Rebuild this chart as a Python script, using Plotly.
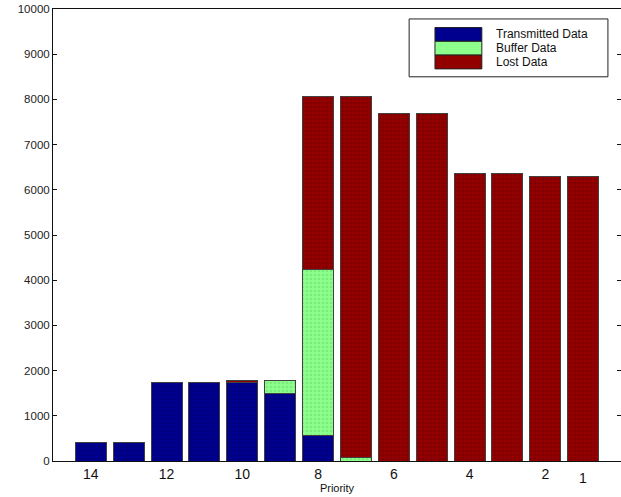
import plotly.graph_objects as go

# Priority classes, highest first (bar positions 1..14 on the x axis)
priorities = [14, 13, 12, 11, 10, 9, 8, 7, 6, 5, 4, 3, 2, 1]
transmitted = [400, 400, 1730, 1730, 1745, 1500, 575, 0, 0, 0, 0, 0, 0, 0]
buffered = [0, 0, 0, 0, 0, 280, 3665, 80, 0, 0, 0, 0, 0, 0]
lost = [0, 0, 0, 0, 35, 0, 3820, 7990, 7690, 7690, 6350, 6350, 6300, 6300]

# labelled priorities on the x axis
tick_priorities = [14, 12, 10, 8, 6, 4, 2]
low_label_priority = 1
y_ticks = list(range(0, 10001, 1000))

series = [
    ("Transmitted Data", transmitted, "#00008e", "#000070"),
    ("Buffer Data", buffered, "#8cff8c", "#70e070"),
    ("Lost Data", lost, "#920000", "#750000"),
]

positions = list(range(1, len(priorities) + 1))
pos_of = {p: i + 1 for i, p in enumerate(priorities)}

fig = go.Figure()
for name, vals, col, dot in series:
    fig.add_trace(go.Bar(
        x=positions, y=vals, name=name, width=0.82,
        marker=dict(color=col,
                    line=dict(color="#404040", width=1),
                    pattern=dict(shape=".", size=4, solidity=0.35,
                                 fgcolor=dot, fgopacity=0.6)),
        showlegend=False,
    ))

font = "Liberation Sans, Arial, Helvetica, sans-serif"

fig.update_layout(
    width=621, height=497,
    margin=dict(l=53, r=0, t=9, b=36),
    barmode="stack",
    plot_bgcolor="white", paper_bgcolor="white",
    font=dict(family=font, color="#111"),
    xaxis=dict(
        range=[0, 15],
        tickvals=[pos_of[p] for p in tick_priorities],
        ticktext=[str(p) for p in tick_priorities],
        tickfont=dict(size=14, color="#111"),
        ticks="", showgrid=False, zeroline=False,
        showline=True, linecolor="#111", linewidth=1, mirror=True,
        title=dict(text="Priority", font=dict(size=11), standoff=2),
    ),
    yaxis=dict(
        range=[0, 10000], tickvals=y_ticks,
        ticktext=[str(v) for v in y_ticks],
        tickfont=dict(size=11.5, color="#222"),
        ticks="inside", ticklen=4, tickcolor="#111",
        showgrid=False, zeroline=False,
        showline=True, linecolor="#111", linewidth=1, mirror="ticks",
    ),
)

# The lowest priority's label sits a little lower than the others
fig.add_annotation(x=pos_of[low_label_priority], y=0, xref="x", yref="y",
                   text=str(low_label_priority), showarrow=False,
                   yanchor="top", yshift=-7, font=dict(size=14, color="#111"))

# Legend box with stacked colour swatches
bx0, bx1, by0, by1 = 0.627, 0.977, 0.850, 0.978
fig.add_shape(type="rect", xref="paper", yref="paper",
              x0=bx0, x1=bx1, y0=by0, y1=by1,
              line=dict(color="#222", width=1), fillcolor="white")
sw_x0, sw_x1 = 0.6725, 0.755
row_top = 0.959
row_h = 0.0305
for i, (name, _, col, _) in enumerate(series):
    y1 = row_top - i * row_h
    y0 = y1 - row_h
    fig.add_shape(type="rect", xref="paper", yref="paper",
                  x0=sw_x0, x1=sw_x1, y0=y0, y1=y1,
                  line=dict(color="#222", width=1), fillcolor=col)
    fig.add_annotation(x=0.776, y=(y0 + y1) / 2, xref="paper", yref="paper",
                       text=name, showarrow=False, xanchor="left",
                       yanchor="middle", font=dict(size=12, color="#111"))

fig.write_html("out.html")
